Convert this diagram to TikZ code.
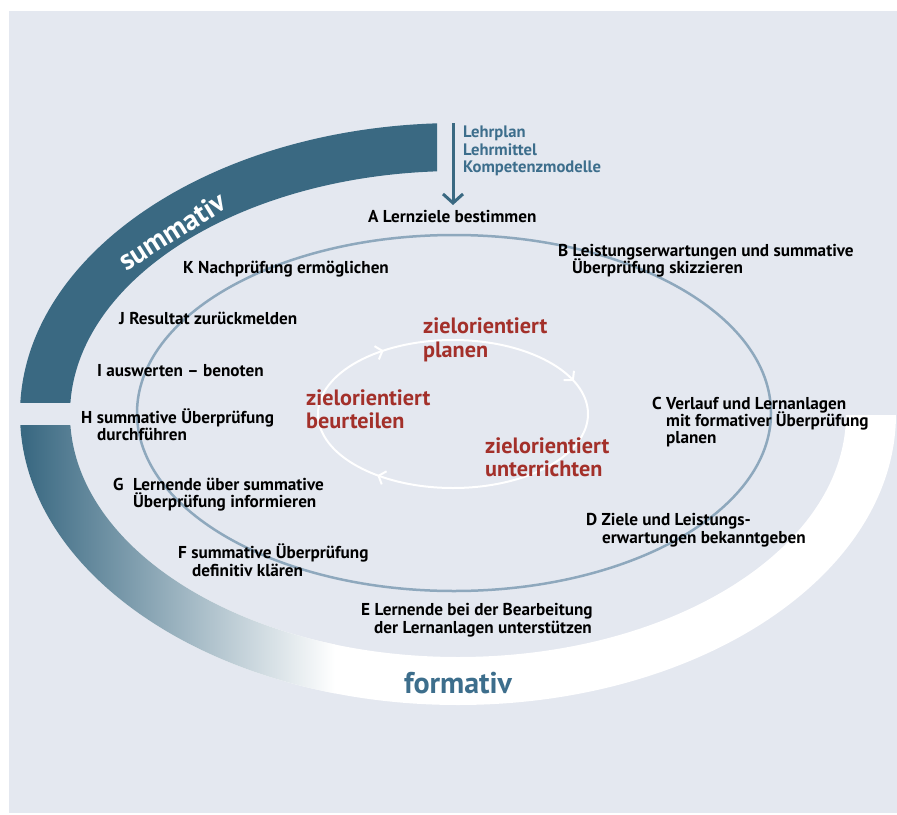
\documentclass[tikz,border=0pt]{standalone}
\usepackage{fontspec}
\setmainfont{PT Sans}
\usetikzlibrary{arrows.meta,decorations.markings}
\definecolor{bgcol}{HTML}{E4E8F0}
\definecolor{bandcol}{HTML}{3A6982}
\definecolor{tealtxt}{HTML}{3D6E8C}
\definecolor{redtxt}{HTML}{A3302A}
\definecolor{thincol}{HTML}{8EA8BD}
\begin{document}
\begin{tikzpicture}[x=1pt,y=-1pt,
  lbl/.style={font=\fontsize{17.2}{18}\selectfont\bfseries, inner sep=0pt, anchor=base west, text=black},
  redlbl/.style={font=\fontsize{22.2}{24}\selectfont\bfseries, inner sep=0pt, anchor=base west, text=redtxt},
  srclbl/.style={font=\fontsize{16.6}{18}\selectfont\bfseries, inner sep=0pt, anchor=base west, text=tealtxt},
  chev/.tip={Straight Barb[length=6pt,width=14pt]}]
\useasboundingbox (0,0) rectangle (897,814);
\fill[bgcol] (9,11) rectangle (897,813);
% summative band
\begin{scope}
  \clip (0,0) rectangle (437,402);
  \fill[bandcol, even odd rule] (458,414) ellipse [x radius=438, y radius=291]
                                (458,414) ellipse [x radius=388, y radius=243];
\end{scope}
% formative band
\begin{scope}
  \clip (0,425) -| (458,415) -| (897,814) -| cycle;
  \begin{scope}[even odd rule]
    \clip (458,414) ellipse [x radius=438, y radius=291]
          (458,414) ellipse [x radius=388, y radius=243];
    \fill[white] (0,0) rectangle (897,814);
    \fill[bandcol] (0,400) rectangle (25,720);
    \shade[left color=bandcol, right color=white] (25,400) rectangle (335,720);
  \end{scope}
\end{scope}
% thin ellipse
\draw[thincol, line width=2.5] (454,413) ellipse [x radius=317, y radius=178];
% inner cycle
\draw[white, line width=2, postaction={decorate}, decoration={markings,
   mark=at position 0.365 with {\arrow{chev}},
   mark=at position 0.645 with {\arrow{chev}},
   mark=at position 0.945 with {\arrow{chev}}}]
   (453,414) ellipse [x radius=135, y radius=74];
% source arrow
\coordinate (arrtop) at (453,123);
\coordinate (arrbot) at (453,205);
\draw[bandcol, line width=3, -{Straight Barb[length=9pt,width=20pt]}] (arrtop) -- (arrbot);
\node[srclbl] (s1) at (463,137) {Lehrplan};
\node[srclbl] (s2) at (463,155) {Lehrmittel};
\node[srclbl] (s3) at (463,172) {Kompetenzmodelle};
% ring words
\node[text=white, font=\fontsize{29}{29}\selectfont\bfseries, rotate=32, inner sep=0pt] (sum) at (172,231) {summativ};
\node[text=tealtxt, font=\fontsize{30}{30}\selectfont\bfseries, anchor=base, inner sep=0pt] (form) at (458,693) {formativ};
% steps
\node[lbl] (a) at (368,222) {A Lernziele bestimmen};
\node[lbl] (b1) at (558,256) {B Leistungserwartungen und summative};
\node[lbl] (b2) at (572,273) {Überprüfung skizzieren};
\node[lbl] (c1) at (652,409) {C Verlauf und Lernanlagen};
\node[lbl] (c2) at (666,426) {mit formativer Überprüfung};
\node[lbl] (c3) at (666,443) {planen};
\node[lbl] (d1) at (586,525) {D Ziele und Leistungs-};
\node[lbl] (d2) at (602,543) {erwartungen bekanntgeben};
\node[lbl] (e1) at (361,615) {E Lernende bei der Bearbeitung};
\node[lbl] (e2) at (374,633) {der Lernanlagen unterstützen};
\node[lbl] (f1) at (178,558) {F summative Überprüfung};
\node[lbl] (f2) at (192,576) {definitiv klären};
\node[lbl] (g0) at (113,490) {G};
\node[lbl] (g1) at (133,490) {Lernende über summative};
\node[lbl] (g2) at (133,507) {Überprüfung informieren};
\node[lbl] (h1) at (81,423) {H summative Überprüfung};
\node[lbl] (h2) at (97,440) {durchführen};
\node[lbl] (i) at (97,376) {I auswerten – benoten};
\node[lbl] (j) at (119,324) {J Resultat zurückmelden};
\node[lbl] (k) at (183,273) {K Nachprüfung ermöglichen};
% centre words
\node[redlbl] (p1) at (423,333) {zielorientiert};
\node[redlbl] (p2) at (423,357) {planen};
\node[redlbl] (r1) at (306,405) {zielorientiert};
\node[redlbl] (r2) at (306,428) {beurteilen};
\node[redlbl] (u1) at (485,453) {zielorientiert};
\node[redlbl] (u2) at (485,476) {unterrichten};
\end{tikzpicture}
\end{document}
